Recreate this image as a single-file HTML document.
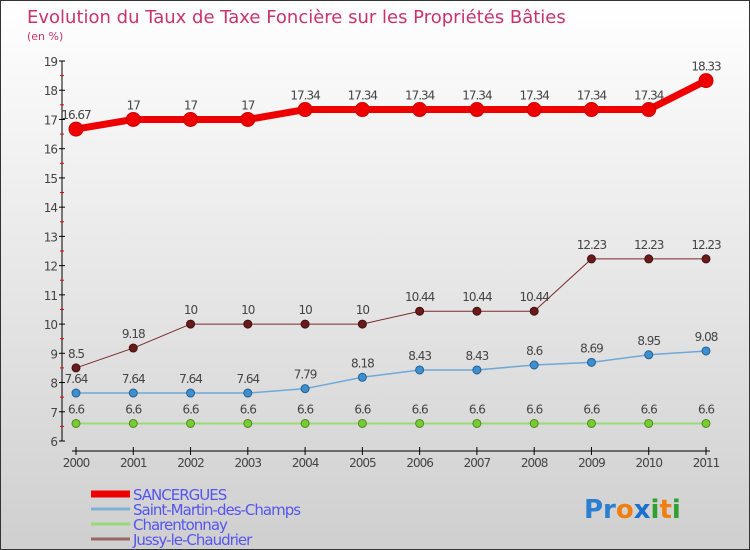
<!DOCTYPE html>
<html><head><meta charset="utf-8"><style>
body{margin:0;}
#wrap{width:750px;height:550px;position:relative;box-sizing:border-box;border:1px solid #333;background:linear-gradient(#ffffff,#cfcfcf);font-family:"DejaVu Sans","Liberation Sans",sans-serif;overflow:hidden;}
svg text{font-family:"DejaVu Sans","Liberation Sans",sans-serif;}
</style></head><body>
<div id="wrap">
<svg id="chart" width="750" height="550">
<text x="26" y="22" font-size="18" fill="#c8336b">Evolution du Taux de Taxe Foncière sur les Propriétés Bâties</text>
<text x="26" y="39" font-size="11" fill="#c8336b">(en %)</text>
<g id="axes"></g><g id="series"></g><g id="legend"></g>
<text x="583" y="517" font-size="26" font-weight="bold"><tspan fill="#2a7fd0">Pr</tspan><tspan fill="#f07f10">o</tspan><tspan fill="#1a70d0">x</tspan><tspan fill="#30a030">i</tspan><tspan fill="#f07f10">t</tspan><tspan fill="#30a030">i</tspan></text>
</svg>
</div>
<script>
const years=[2000,2001,2002,2003,2004,2005,2006,2007,2008,2009,2010,2011];
const yTicks=[6,7,8,9,10,11,12,13,14,15,16,17,18,19];
const sancergues=[16.67,17,17,17,17.34,17.34,17.34,17.34,17.34,17.34,17.34,18.33];
const saintMartin=[7.64,7.64,7.64,7.64,7.79,8.18,8.43,8.43,8.6,8.69,8.95,9.08];
const charentonnay=[6.6,6.6,6.6,6.6,6.6,6.6,6.6,6.6,6.6,6.6,6.6,6.6];
const jussy=[8.5,9.18,10,10,10,10,10.44,10.44,10.44,12.23,12.23,12.23];
const seriesNames=["SANCERGUES","Saint-Martin-des-Champs","Charentonnay","Jussy-le-Chaudrier"];
const NS="http://www.w3.org/2000/svg";
const xs=i=>75+i*(705-75)/(years.length-1);
const ys=v=>440-(v-6)*(380/13);
function mk(tag,attrs,parent){const e=document.createElementNS(NS,tag);for(const k in attrs)e.setAttribute(k,attrs[k]);parent.appendChild(e);return e;}
const ax=document.getElementById('axes');
let l=mk('line',{x1:61,y1:60,x2:61,y2:440,stroke:'#000'},ax);


yTicks.forEach(v=>{
 mk('line',{x1:58,x2:64,y1:ys(v),y2:ys(v),stroke:'#000'},ax);
 if(v<19)mk('line',{x1:59,x2:63,y1:ys(v+0.5),y2:ys(v+0.5),stroke:'#e00'},ax);
 const t=mk('text',{x:56,y:ys(v)+5,'font-size':12,'text-anchor':'end',fill:'#444','letter-spacing':'-1'},ax);
 t.textContent=v;
 
 
});
l=mk('line',{x1:71,y1:450,x2:709,y2:450,stroke:'#000'},ax);


years.forEach((y,i)=>{
 mk('line',{x1:xs(i),x2:xs(i),y1:446,y2:454,stroke:'#000'},ax);
 const t=mk('text',{x:xs(i),y:466,'font-size':12,'text-anchor':'middle',fill:'#444','letter-spacing':'-1'},ax);
 t.textContent=y;
 
 
});
const sg=document.getElementById('series');
function draw(data,color,width,r,dot,stroke,name,labelColor){
 const g=mk('g',{},sg);
 
 
 mk('polyline',{points:data.map((v,i)=>xs(i)+','+ys(v)).join(' '),fill:'none',stroke:color,'stroke-width':width,'stroke-linejoin':'round'},g);
 data.forEach((v,i)=>{
  const c=mk('circle',{cx:xs(i),cy:ys(v),r:r,fill:dot,stroke:stroke,'stroke-width':1},g);
  
  
  const t=mk('text',{x:xs(i),y:ys(v)-10,'font-size':12,'text-anchor':'middle',fill:'#444','letter-spacing':'-1'},g);
  t.textContent=v;
  
  
 });
}
draw(charentonnay,'#99d977',2,4,'#77cc33','#558822','charentonnay-series');
draw(saintMartin,'#6fa8d8',1.5,4,'#3d8fd0','#24608f','saint-martin-series');
draw(jussy,'#7a2a2a',1,4,'#6a1a1a','#401010','jussy-series');
draw(sancergues,'#ee0000',7,7,'#ee0000','#cc0000','sancergues-series');
const lg=document.getElementById('legend');
const lc=['#ee0000','#7fb0d8','#99d977','#996666'];const lw=[7,3,3,3];
seriesNames.forEach((n,i)=>{
 const y=493+i*15;
 const g=mk('g',{},lg);
 
 
 mk('line',{x1:90,x2:129,y1:y,y2:y,stroke:lc[i],'stroke-width':lw[i]},g);
 const t=mk('text',{x:132,y:y+6,'font-size':15,fill:'#5555ee','letter-spacing':'-1'},g);
 t.textContent=n;
});
</script>
</body></html>
